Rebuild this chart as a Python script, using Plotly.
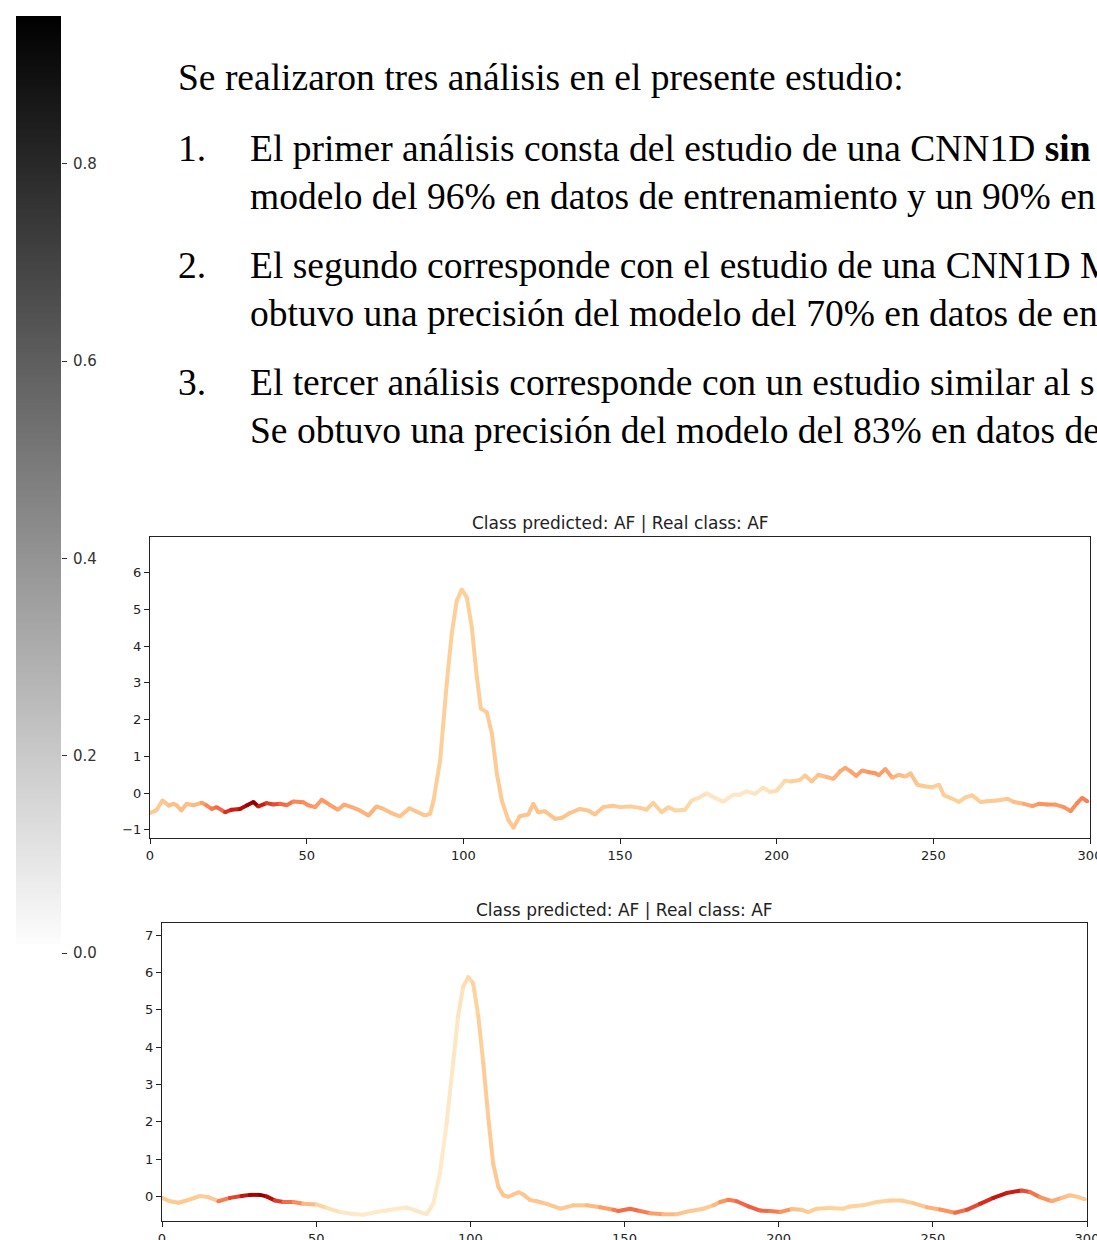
import numpy as np
import plotly.graph_objects as go
from plotly.colors import sample_colorscale

W, H = 1097, 1240

# ---------------- data: chart 1 ----------------
x1 = [0, 2, 4, 6, 7.5, 8.5, 10, 11.7, 13.8, 16.5, 18, 19.7, 21.3, 24, 26, 28.7, 31, 33, 34.6, 37.2,
      39.4, 41.5, 43.6, 45.7, 49, 50.5, 52.7, 54.8, 57.4, 60, 62, 64.4, 67, 69.7, 72.3, 74.5, 77, 79.8,
      82.8, 85, 87.8, 89.4, 90.5, 92.6, 94.7, 96.3, 97.9, 99.5, 101.1, 102.7, 104.3, 105.6, 107.5,
      109.1, 110.7, 112.3, 114.4, 116, 118, 120.7, 122.3, 123.9, 126, 129.3, 131.5, 134, 137.2, 139.8,
      142, 144.6, 147.8, 150, 153.2, 156.4, 158.5, 160.6, 163.3, 165.4, 167.6, 170.8, 172.9, 175,
      177.7, 180.3, 183, 186.2, 188.3, 190.4, 193.1, 195.7, 197.9, 200, 202.7, 204.8, 207.4, 209.1,
      211.2, 213.3, 216, 218.1, 220.3, 221.9, 223.5, 225.4, 227.3, 229.4, 231.5, 232.6, 234.7, 236.9,
      239, 241.1, 242.7, 244.9, 247.5, 249.6, 251.8, 253.4, 255.5, 258.2, 260.3, 262.4, 265.1, 267.2,
      270.4, 273.6, 275.7, 278.9, 281.6, 283.7, 286.3, 289, 291.7, 293.8, 295.9, 297.5, 299.1]
y1 = [-0.54, -0.47, -0.20, -0.34, -0.29, -0.33, -0.47, -0.29, -0.33, -0.26, -0.33, -0.43, -0.38, -0.52,
      -0.45, -0.43, -0.33, -0.24, -0.36, -0.27, -0.31, -0.29, -0.33, -0.23, -0.25, -0.33, -0.38, -0.18,
      -0.32, -0.45, -0.31, -0.38, -0.47, -0.61, -0.36, -0.43, -0.54, -0.63, -0.41, -0.50, -0.61, -0.56,
      -0.20, 0.89, 2.98, 4.34, 5.24, 5.54, 5.33, 4.52, 3.16, 2.30, 2.20, 1.62, 0.53, -0.20, -0.74, -0.94,
      -0.63, -0.58, -0.29, -0.52, -0.49, -0.70, -0.67, -0.54, -0.43, -0.47, -0.58, -0.38, -0.34, -0.38,
      -0.36, -0.40, -0.45, -0.26, -0.52, -0.38, -0.47, -0.45, -0.20, -0.13, 0.00, -0.13, -0.23, -0.04,
      -0.04, 0.05, -0.02, 0.15, 0.03, 0.07, 0.34, 0.32, 0.36, 0.48, 0.32, 0.50, 0.44, 0.39, 0.60, 0.69,
      0.60, 0.47, 0.62, 0.57, 0.54, 0.49, 0.66, 0.42, 0.50, 0.45, 0.54, 0.23, 0.18, 0.16, 0.23, -0.06,
      -0.13, -0.24, -0.11, -0.06, -0.24, -0.22, -0.20, -0.15, -0.24, -0.29, -0.35, -0.29, -0.31, -0.31,
      -0.38, -0.49, -0.27, -0.13, -0.22]
a1 = [0.30, 0.30, 0.32, 0.35, 0.35, 0.35, 0.36, 0.36, 0.38, 0.45, 0.52, 0.56, 0.62, 0.75, 0.80, 0.85,
      0.92, 0.95, 0.80, 0.72, 0.68, 0.62, 0.58, 0.52, 0.50, 0.48, 0.46, 0.47, 0.45, 0.42, 0.42, 0.41,
      0.40, 0.40, 0.38, 0.36, 0.34, 0.33, 0.33, 0.32, 0.31, 0.30, 0.28, 0.27, 0.27, 0.27, 0.27, 0.27,
      0.27, 0.28, 0.28, 0.28, 0.29, 0.29, 0.30, 0.30, 0.31, 0.32, 0.33, 0.33, 0.33, 0.33, 0.33, 0.33,
      0.33, 0.33, 0.32, 0.32, 0.32, 0.31, 0.30, 0.28, 0.28, 0.28, 0.28, 0.27, 0.27, 0.26, 0.24, 0.22,
      0.19, 0.17, 0.15, 0.14, 0.14, 0.13, 0.13, 0.14, 0.15, 0.16, 0.18, 0.20, 0.24, 0.27, 0.28, 0.30,
      0.32, 0.35, 0.38, 0.40, 0.42, 0.43, 0.44, 0.45, 0.46, 0.48, 0.47, 0.45, 0.44, 0.40, 0.37, 0.35,
      0.34, 0.31, 0.29, 0.28, 0.28, 0.28, 0.27, 0.27, 0.27, 0.28, 0.29, 0.30, 0.30, 0.32, 0.36, 0.42,
      0.46, 0.48, 0.48, 0.47, 0.48, 0.50, 0.52, 0.54, 0.54, 0.52, 0.50]

# ---------------- data: chart 2 ----------------
x2 = [0, 2.6, 5.3, 8, 12.3, 15, 18.3, 22, 25.8, 28.5, 31.8, 33.9, 36.6, 39.4, 42.6, 45.8, 50.2, 53.4,
      57.7, 62.1, 65.3, 69.6, 72.9, 76.1, 79.4, 82.6, 85.8, 88, 90.1, 92.3, 94.4, 96, 97.7, 99.3, 100.9,
      102.6, 104.2, 105.8, 107.4, 109.1, 110.7, 112.3, 113.9, 115.6, 117.2, 119.4, 121.5, 124.8, 129.1,
      133.4, 137.7, 142.1, 146.4, 148, 151.8, 155, 158.3, 162.6, 166.9, 171.3, 175.6, 178.8, 181, 183.7,
      186.4, 190.2, 194, 197.2, 200.5, 204.2, 207.5, 209.6, 212.3, 216.6, 220.9, 223.1, 227.4, 231.8,
      236.1, 239.9, 243.6, 248, 252.3, 257.2, 261, 265.3, 269.6, 273.9, 278.8, 281.5, 284.7, 288.5,
      291.8, 294.5, 297.2, 299.3]
y2 = [-0.04, -0.13, -0.17, -0.11, 0.01, -0.02, -0.13, -0.04, 0.01, 0.04, 0.04, 0.00, -0.11, -0.15,
      -0.15, -0.20, -0.22, -0.31, -0.42, -0.47, -0.49, -0.42, -0.38, -0.33, -0.30, -0.39, -0.48, -0.19,
      0.61, 1.95, 3.56, 4.82, 5.63, 5.88, 5.72, 4.82, 3.57, 2.13, 0.88, 0.25, 0.03, -0.01, 0.05, 0.11,
      0.05, -0.10, -0.13, -0.20, -0.33, -0.24, -0.24, -0.29, -0.36, -0.39, -0.33, -0.39, -0.45, -0.48,
      -0.48, -0.39, -0.33, -0.24, -0.15, -0.09, -0.13, -0.27, -0.38, -0.39, -0.42, -0.34, -0.36, -0.42,
      -0.33, -0.31, -0.33, -0.27, -0.24, -0.15, -0.11, -0.11, -0.18, -0.29, -0.35, -0.44, -0.36, -0.20,
      -0.04, 0.09, 0.16, 0.12, -0.02, -0.13, -0.04, 0.03, -0.02, -0.08]
a2 = [0.30, 0.30, 0.30, 0.29, 0.28, 0.30, 0.55, 0.70, 0.82, 0.90, 0.95, 0.85, 0.72, 0.60, 0.50, 0.38,
      0.25, 0.18, 0.13, 0.12, 0.12, 0.12, 0.12, 0.12, 0.13, 0.13, 0.13, 0.12, 0.12, 0.13, 0.14, 0.16,
      0.19, 0.22, 0.25, 0.27, 0.29, 0.30, 0.31, 0.32, 0.32, 0.32, 0.32, 0.32, 0.32, 0.32, 0.32, 0.31,
      0.30, 0.32, 0.38, 0.45, 0.55, 0.60, 0.60, 0.55, 0.45, 0.38, 0.32, 0.30, 0.30, 0.38, 0.48, 0.55,
      0.62, 0.64, 0.62, 0.56, 0.48, 0.35, 0.30, 0.28, 0.27, 0.26, 0.25, 0.25, 0.25, 0.26, 0.27, 0.28,
      0.32, 0.40, 0.48, 0.60, 0.68, 0.76, 0.82, 0.80, 0.68, 0.58, 0.48, 0.42, 0.36, 0.32, 0.30, 0.30]

# ---------------- ticks / text ----------------
x_ticks = [0, 50, 100, 150, 200, 250, 300]
y1_ticks = [-1, 0, 1, 2, 3, 4, 5, 6]
y2_ticks = [0, 1, 2, 3, 4, 5, 6, 7]
cbar_ticks = [0.0, 0.2, 0.4, 0.6, 0.8]
title_text = "Class predicted: AF | Real class: AF"

para_lines = [
    ("", "Se realizaron tres análisis en el presente estudio:"),
    ("1.", "El primer análisis consta del estudio de una CNN1D <b>sin</b>"),
    ("", "modelo del 96% en datos de entrenamiento y un 90% en"),
    ("2.", "El segundo corresponde con el estudio de una CNN1D M"),
    ("", "obtuvo una precisión del modelo del 70% en datos de en"),
    ("3.", "El tercer análisis corresponde con un estudio similar al s"),
    ("", "Se obtuvo una precisión del modelo del 83% en datos de"),
]
para_y_px = [78, 149, 196, 266, 313, 383, 430]
para_x_px = [176, 248, 248, 248, 248, 248, 248]
num_x_px = 176

# ---------------- layout geometry (pixels) ----------------
def px_x(p):
    return p / W

def px_y(p):
    return 1 - p / H

ax1 = dict(x0=150, x1=1090, y0=537, y1=838, yr=[-1.22, 6.97], title_y=523)
ax2 = dict(x0=162, x1=1087, y0=923, y1=1221, yr=[-0.66, 7.33], title_y=910)
cb = dict(x0=16, x1=61, y0=16, y1=953)

fig = go.Figure()

TICKFONT = dict(family="DejaVu Sans", size=13, color="#222")
cscale = "OrRd"

def add_series(xs, ys, att, xa, ya):
    cols = sample_colorscale(cscale, [min(max(v, 0), 1) for v in att])
    for i in range(len(xs) - 1):
        fig.add_trace(go.Scatter(x=[xs[i], xs[i + 1]], y=[ys[i], ys[i + 1]], mode="lines",
                                 line=dict(color=cols[i], width=4),
                                 xaxis=xa, yaxis=ya, showlegend=False, hoverinfo="skip"))
    fig.add_trace(go.Scatter(x=xs, y=ys, mode="markers",
                             marker=dict(color=att, colorscale=cscale, cmin=0, cmax=1, size=4,
                                         line=dict(width=0)),
                             xaxis=xa, yaxis=ya, showlegend=False))

add_series(x1, y1, a1, "x", "y")
add_series(x2, y2, a2, "x2", "y2")

# colorbar as heatmap
levels = np.linspace(0.01, 0.95, 400)
fig.add_trace(go.Heatmap(z=[[v] for v in levels], y=levels, x=[0],
                         colorscale=[[0, "rgb(255,255,255)"], [1, "rgb(0,0,0)"]],
                         zmin=0, zmax=0.95, showscale=False, xaxis="x3", yaxis="y3",
                         hoverinfo="skip"))

def xaxis_style(a):
    return dict(domain=[px_x(a["x0"]), px_x(a["x1"])], range=[0, 300],
                tickvals=x_ticks, ticktext=[str(v) for v in x_ticks],
                ticks="outside", ticklen=5, tickwidth=1, tickcolor="#222",
                showline=True, linecolor="#222", linewidth=1, mirror=True,
                showgrid=False, zeroline=False, tickfont=TICKFONT,
                ticklabeloverflow="allow", automargin=False)

def yaxis_style(a, ticks):
    return dict(domain=[px_y(a["y1"]), px_y(a["y0"])], range=a["yr"],
                tickvals=ticks, ticktext=[str(v).replace("-", "\u2212") for v in ticks],
                ticks="outside", ticklen=5, tickwidth=1, tickcolor="#222",
                showline=True, linecolor="#222", linewidth=1, mirror=True,
                showgrid=False, zeroline=False, tickfont=TICKFONT, automargin=False)

fig.update_layout(
    width=W, height=H, margin=dict(l=0, r=0, t=0, b=0, autoexpand=False),
    paper_bgcolor="white", plot_bgcolor="white",
    xaxis=dict(**xaxis_style(ax1), anchor="y"),
    yaxis=dict(**yaxis_style(ax1, y1_ticks), anchor="x"),
    xaxis2=dict(**xaxis_style(ax2), anchor="y2"),
    yaxis2=dict(**yaxis_style(ax2, y2_ticks), anchor="x2"),
    xaxis3=dict(domain=[px_x(cb["x0"]), px_x(cb["x1"])], anchor="y3", range=[-0.5, 0.5],
                visible=False, automargin=False),
    yaxis3=dict(domain=[px_y(cb["y1"]), px_y(cb["y0"])], anchor="x3", range=[0, 0.95],
                side="right", tickvals=cbar_ticks, ticktext=["%.1f" % v for v in cbar_ticks],
                ticks="outside", ticklen=5, tickwidth=1, tickcolor="#333",
                ticklabelstandoff=3,
                showline=False, showgrid=False, zeroline=False, automargin=False,
                tickfont=dict(family="DejaVu Sans", size=15, color="#333")),
    showlegend=False,
)

annotations = []
for a in (ax1, ax2):
    annotations.append(dict(x=px_x((a["x0"] + a["x1"]) / 2), y=px_y(a["title_y"]), xref="paper",
                            yref="paper", text=title_text, showarrow=False, xanchor="center",
                            yanchor="middle",
                            font=dict(family="DejaVu Sans", size=17, color="#222")))

SERIF = dict(family="Liberation Serif, Times New Roman, serif", size=37.5, color="black")
for (num, txt), yp, xp in zip(para_lines, para_y_px, para_x_px):
    if num:
        annotations.append(dict(x=px_x(num_x_px), y=px_y(yp), xref="paper", yref="paper",
                                text=num, showarrow=False, xanchor="left", yanchor="middle",
                                font=SERIF))
    annotations.append(dict(x=px_x(xp), y=px_y(yp), xref="paper", yref="paper", text=txt,
                            showarrow=False, xanchor="left", yanchor="middle", font=SERIF))
fig.update_layout(annotations=annotations)

fig.write_html("out.html", config={"displayModeBar": False},
               post_script="document.body.style.margin='0';document.body.style.overflow='hidden';")
